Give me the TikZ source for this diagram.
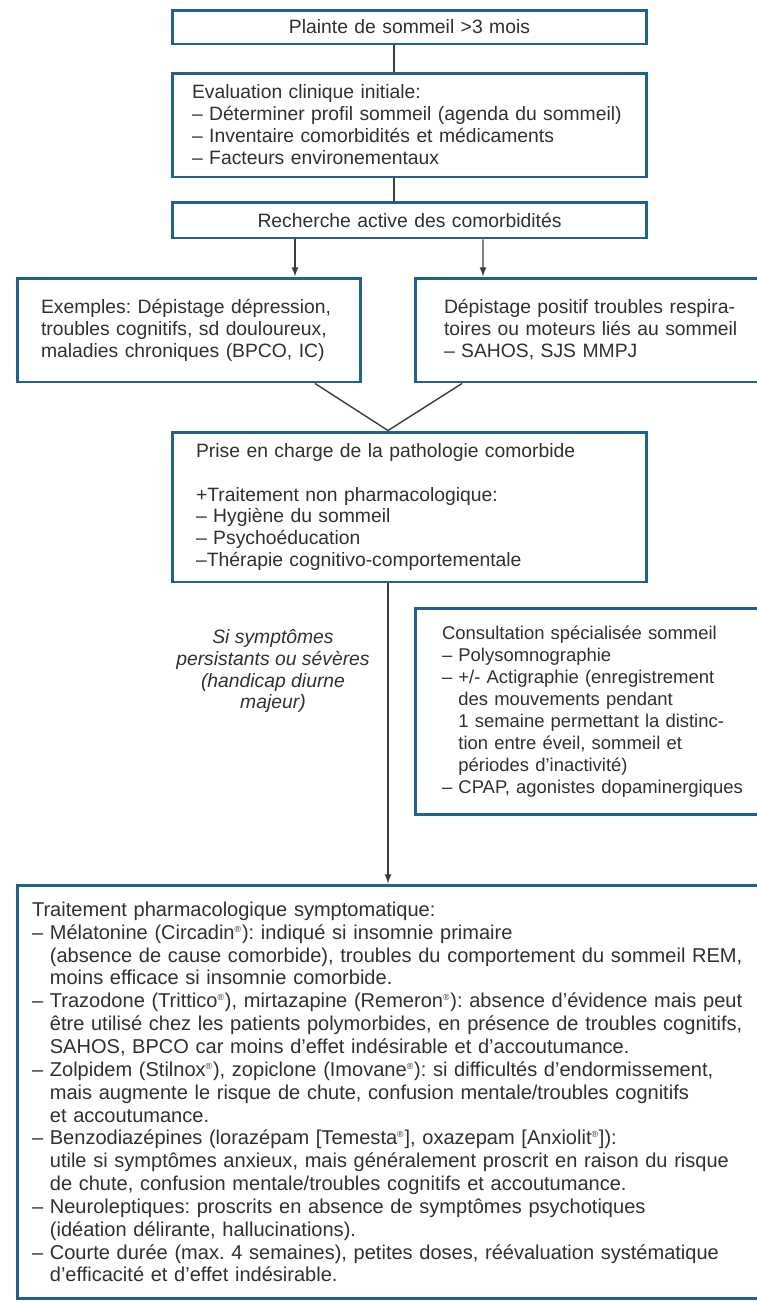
\documentclass[tikz,border=0pt]{standalone}
\usepackage{fontspec}
\setmainfont{Liberation Sans}
\usepackage{xcolor}
\usepackage{tikz}
\usetikzlibrary{calc}
\usetikzlibrary{arrows}
\usetikzlibrary{arrows.meta}
\usetikzlibrary{positioning}
\definecolor{boxblue}{RGB}{34,96,142}
\definecolor{txtgray}{RGB}{48,48,48}
\definecolor{linegray}{RGB}{60,60,60}
\tikzset{>=latex}
\tikzstyle{box} = [draw=boxblue, line width=1.7pt, fill=white, text=txtgray, inner ysep=0pt, font=\fontsize{11pt}{12.5pt}\selectfont]
\tikzstyle{lnk} = [-, draw=linegray, line width=0.8pt]
\newcommand{\indt}{\phantom{– }}
\newcommand{\rg}{\textsuperscript{\tiny ®}}
\frenchspacing

\begin{document}
\begin{tikzpicture}[x=0.02cm, y=-0.02cm]
\useasboundingbox (0,0) rectangle (757,1302);
\node [box, align=center, text width=9.5cm, inner xsep=0pt, minimum height=0.68cm] (plainte) at (409.5, 27) {Plainte de sommeil >3 mois};
\node [box, align=left, text width=8.7cm, inner xsep=0.4cm, minimum height=2.08cm] (eval) at (409.5, 125)
  {Evaluation clinique initiale:\\
   – Déterminer profil sommeil (agenda du sommeil)\\
   – Inventaire comorbidités et médicaments\\
   – Facteurs environementaux};
\node [box, align=center, text width=9.5cm, inner xsep=0pt, minimum height=0.72cm] (recherche) at (409.5, 220) {Recherche active des comorbidités};
\node [box, align=left, text width=5.92cm, inner xsep=0.48cm, minimum height=2.08cm] (exemples) at (189, 330)
  {Exemples: Dépistage dépression,\\
   troubles cognitifs, sd douloureux,\\
   maladies chroniques (BPCO, IC)};
\node [box, align=left, text width=6.24cm, inner xsep=0.58cm, minimum height=2.08cm] (depistage) at (600, 330)
  {Dépistage positif troubles respira-\\
   toires ou moteurs liés au sommeil\\
   – SAHOS, SJS MMPJ};
\node [box, align=left, text width=8.54cm, inner xsep=0.48cm, minimum height=3cm] (prise) at (409.5, 507)
  {Prise en charge de la pathologie comorbide\\[12.5pt]
   +Traitement non pharmacologique:\\
   – Hygiène du sommeil\\
   – Psychoéducation\\
   –Thérapie cognitivo-comportementale};
\node [draw=none, align=center, text=txtgray, font=\fontsize{11pt}{12.5pt}\selectfont\itshape] (si) at (273, 671)
  {Si symptômes\\ persistants ou sévères\\ (handicap diurne\\ majeur)};
\node [box, align=left, text width=6.32cm, inner xsep=0.54cm, minimum height=4.14cm,
       font=\fontsize{10.5pt}{12.5pt}\selectfont] (consult) at (600, 711.5)
  {Consultation spécialisée sommeil\\
   – Polysomnographie\\
   – +/- Actigraphie (enregistrement\\
   \indt des mouvements pendant\\
   \indt 1 semaine permettant la distinc-\\
   \indt tion entre éveil, sommeil et\\
   \indt périodes d’inactivité)\\
   – CPAP, agonistes dopaminergiques};
\node [box, align=left, text width=14.76cm, inner xsep=0.3cm, minimum height=8.28cm,
       font=\fontsize{11.4pt}{13pt}\selectfont] (pharma) at (401, 1092)
  {Traitement pharmacologique symptomatique:\\
   – Mélatonine (Circadin\rg): indiqué si insomnie primaire\\
   \indt (absence de cause comorbide), troubles du comportement du sommeil REM,\\
   \indt moins efficace si insomnie comorbide.\\
   – Trazodone (Trittico\rg), mirtazapine (Remeron\rg): absence d’évidence mais peut\\
   \indt être utilisé chez les patients polymorbides, en présence de troubles cognitifs,\\
   \indt SAHOS, BPCO car moins d’effet indésirable et d’accoutumance.\\
   – Zolpidem (Stilnox\rg), zopiclone (Imovane\rg): si difficultés d’endormissement,\\
   \indt mais augmente le risque de chute, confusion mentale/troubles cognitifs\\
   \indt et accoutumance.\\
   – Benzodiazépines (lorazépam [Temesta\rg], oxazepam [Anxiolit\rg]):\\
   \indt utile si symptômes anxieux, mais généralement proscrit en raison du risque\\
   \indt de chute, confusion mentale/troubles cognitifs et accoutumance.\\
   – Neuroleptiques: proscrits en absence de symptômes psychotiques\\
   \indt (idéation délirante, hallucinations).\\
   – Courte durée (max. 4 semaines), petites doses, réévaluation systématique\\
   \indt d’efficacité et d’effet indésirable.};
\draw [lnk] ($(plainte.south)+(-15.5,0)$) to ($(eval.north)+(-15.5,0)$);
\draw [lnk] ($(eval.south)+(-15.5,0)$) to ($(recherche.north)+(-15.5,0)$);
\draw [lnk, -latex] ($(recherche.south)+(-114.5,0)$) to ($(exemples.north)+(106,0)$);
\draw [lnk, -latex] ($(recherche.south)+(73.5,0)$) to ($(depistage.north)+(-117,0)$);
\draw [lnk] ($(exemples.south)+(126,0)$) to ($(prise.north)+(-21.5,0)$);
\draw [lnk] ($(depistage.south)+(-138,0)$) to ($(prise.north)+(-21.5,0)$);
\draw [lnk, -latex] ($(prise.south)+(-21.5,0)$) to ($(pharma.north)+(-13,0)$);
\end{tikzpicture}
\end{document}
